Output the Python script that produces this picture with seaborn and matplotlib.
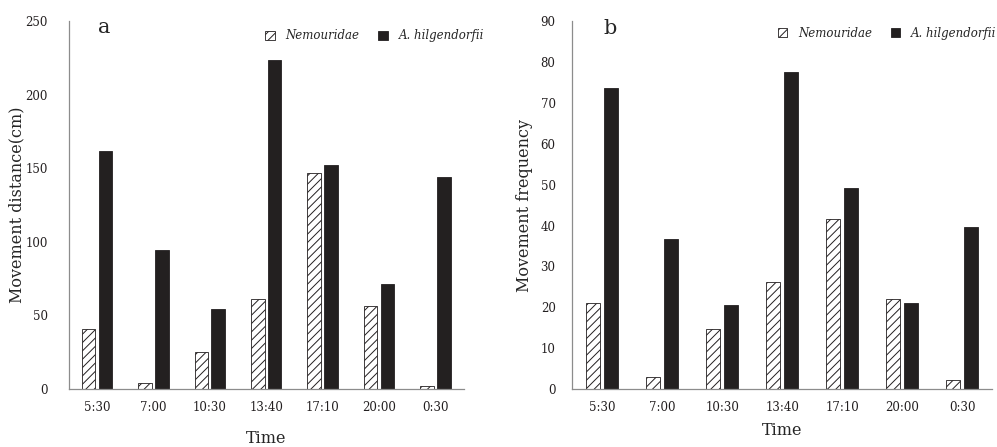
import numpy as np
import pandas as pd
import matplotlib
matplotlib.use('Agg')
import matplotlib.pyplot as plt
import seaborn as sns

# dados
times = ['5:30', '7:00', '10:30', '13:40', '17:10', '20:00', '0:30']
species = ['Nemouridae', 'A. hilgendorfii']
dist_nem = [41, 4.3, 25, 61, 146.7, 56, 2.3]
dist_ahi = [162, 94.4, 54, 223.8, 152, 71.5, 144]
freq_nem = [21.1, 3.0, 14.6, 26.1, 41.6, 22.1, 2.1]
freq_ahi = [73.7, 36.6, 20.6, 77.7, 49.1, 21.1, 39.6]

def make_df(nem, ahi):
    return pd.DataFrame({'Time': times * 2,
                         'Species': [species[0]] * 7 + [species[1]] * 7,
                         'value': nem + ahi})

sns.set_style('white')
plt.rcParams['font.family'] = ['DejaVu Serif']
plt.rcParams['hatch.linewidth'] = 0.7
plt.rcParams['hatch.color'] = '#231f20'

fig = plt.figure(figsize=(9.97, 4.47), dpi=100)
ax1 = fig.add_axes([0.069, 0.130, 0.396, 0.823])
ax2 = fig.add_axes([0.574, 0.130, 0.421, 0.822])

# ax, df, ylabel, ymax, step, tag, ytick pad, xlabel pad, ylabel x, legend x, legend y
panels = [(ax1, make_df(dist_nem, dist_ahi), 'Movement distance(cm)', 250, 50, 'a', 15, 11.5, -0.109, 1.078, 1.006),
          (ax2, make_df(freq_nem, freq_ahi), 'Movement frequency', 90, 10, 'b', 12, 5.5, -0.093, 1.035, 1.015)]

for ax, df, ylab, ymax, step, tag, ypad, xlpad, ylx, legx, legy in panels:
    sns.barplot(data=df, x='Time', y='value', hue='Species', order=times,
                hue_order=species, palette=['white', '#231f20'], width=0.6,
                gap=0.2, edgecolor='#231f20', linewidth=0.6, legend=False, ax=ax)
    for p in ax.containers[0]:
        p.set_hatch('////')
    ax.set_xlim(-0.5, 6.5)
    ax.set_ylim(0, ymax)
    ax.set_yticks(np.arange(0, ymax + 1, step))
    ax.set_ylabel(ylab, fontsize=11.5)
    ax.yaxis.set_label_coords(ylx, 0.5)
    ax.set_xlabel('Time', fontsize=11.5, labelpad=xlpad)
    ax.tick_params(axis='both', labelsize=8.5, length=0, colors='#231f20')
    ax.tick_params(axis='x', pad=9)
    ax.tick_params(axis='y', pad=ypad)
    sns.despine(ax=ax)
    for s in ['left', 'bottom']:
        ax.spines[s].set_color('#8c8c8c')
        ax.spines[s].set_linewidth(0.9)
    ax.text(0.075, 0.967, tag, transform=ax.transAxes, fontsize=15, va='baseline')
    handles = [ax.containers[0][0], ax.containers[1][0]]
    ax.legend(handles, species, loc='upper right', frameon=False,
              prop={'style': 'italic', 'size': 8.5}, handlelength=0.8,
              handleheight=0.8, handletextpad=0.9, columnspacing=1.6,
              ncol=2, bbox_to_anchor=(legx, legy))

fig.savefig('out.png', dpi=100)
